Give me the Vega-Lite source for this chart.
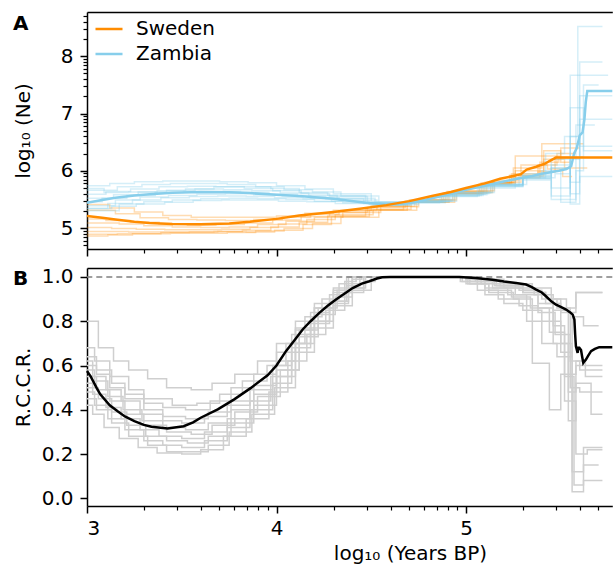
{
"$schema": "https://vega.github.io/schema/vega-lite/v6.json",
"padding": {"left": 13, "top": 12, "right": 0, "bottom": 0},
"spacing": 9,
"config": {
  "font": "DejaVu Sans",
  "view": {"stroke": null},
  "axis": {"grid": false, "domainColor": "black", "domainWidth": 1.5, "tickColor": "black", "tickWidth": 1.5, "labelColor": "black", "labelFontSize": 20, "titleFontSize": 20, "titleFontWeight": "normal", "titleColor": "black", "labelFont": "DejaVu Sans", "titleFont": "DejaVu Sans"}
},
"datasets": {
"ne": [
{"c":"Zambia","x":3.0,"y":5.44},{"c":"Zambia","x":3.08,"y":5.49},{"c":"Zambia","x":3.15,"y":5.53},{"c":"Zambia","x":3.25,"y":5.57},{"c":"Zambia","x":3.33,"y":5.59},{"c":"Zambia","x":3.45,"y":5.615},{"c":"Zambia","x":3.6,"y":5.63},{"c":"Zambia","x":3.75,"y":5.625},{"c":"Zambia","x":3.86,"y":5.61},{"c":"Zambia","x":4.0,"y":5.58},{"c":"Zambia","x":4.12,"y":5.56},{"c":"Zambia","x":4.3,"y":5.51},{"c":"Zambia","x":4.47,"y":5.44},{"c":"Zambia","x":4.58,"y":5.41},{"c":"Zambia","x":4.65,"y":5.415},{"c":"Zambia","x":4.73,"y":5.45},{"c":"Zambia","x":4.82,"y":5.52},{"c":"Zambia","x":4.9,"y":5.58},{"c":"Zambia","x":5.0,"y":5.67},{"c":"Zambia","x":5.1,"y":5.74},{"c":"Zambia","x":5.18,"y":5.8},{"c":"Zambia","x":5.27,"y":5.86},{"c":"Zambia","x":5.35,"y":5.91},{"c":"Zambia","x":5.4,"y":5.95},{"c":"Zambia","x":5.49,"y":6.0},{"c":"Zambia","x":5.53,"y":6.03},{"c":"Zambia","x":5.555,"y":6.08},{"c":"Zambia","x":5.57,"y":6.3},{"c":"Zambia","x":5.585,"y":6.4},{"c":"Zambia","x":5.6,"y":6.62},{"c":"Zambia","x":5.615,"y":6.67},{"c":"Zambia","x":5.625,"y":6.9},{"c":"Zambia","x":5.632,"y":7.2},{"c":"Zambia","x":5.64,"y":7.395},{"c":"Zambia","x":5.772,"y":7.395},
{"c":"Sweden","x":3.0,"y":5.21},{"c":"Sweden","x":3.08,"y":5.18},{"c":"Sweden","x":3.15,"y":5.15},{"c":"Sweden","x":3.25,"y":5.11},{"c":"Sweden","x":3.33,"y":5.09},{"c":"Sweden","x":3.45,"y":5.07},{"c":"Sweden","x":3.6,"y":5.065},{"c":"Sweden","x":3.75,"y":5.08},{"c":"Sweden","x":3.86,"y":5.11},{"c":"Sweden","x":4.0,"y":5.16},{"c":"Sweden","x":4.12,"y":5.22},{"c":"Sweden","x":4.3,"y":5.28},{"c":"Sweden","x":4.45,"y":5.34},{"c":"Sweden","x":4.58,"y":5.4},{"c":"Sweden","x":4.7,"y":5.47},{"c":"Sweden","x":4.82,"y":5.56},{"c":"Sweden","x":4.92,"y":5.63},{"c":"Sweden","x":5.0,"y":5.7},{"c":"Sweden","x":5.1,"y":5.78},{"c":"Sweden","x":5.18,"y":5.86},{"c":"Sweden","x":5.25,"y":5.91},{"c":"Sweden","x":5.29,"y":5.94},{"c":"Sweden","x":5.32,"y":6.02},{"c":"Sweden","x":5.37,"y":6.07},{"c":"Sweden","x":5.42,"y":6.13},{"c":"Sweden","x":5.44,"y":6.17},{"c":"Sweden","x":5.475,"y":6.23},{"c":"Sweden","x":5.772,"y":6.23}
],
"swe": [
{"r":1,"x":3.0,"y":5.41},{"r":1,"x":3.12,"y":5.35},{"r":1,"x":3.25,"y":5.28},{"r":1,"x":3.4,"y":5.22},{"r":1,"x":3.55,"y":5.19},{"r":1,"x":3.7,"y":5.19},{"r":1,"x":3.85,"y":5.19},{"r":1,"x":4.0,"y":5.21},{"r":1,"x":4.15,"y":5.26},{"r":1,"x":4.3,"y":5.31},{"r":1,"x":4.5,"y":5.39},{"r":1,"x":4.7,"y":5.49},{"r":1,"x":4.9,"y":5.64},{"r":1,"x":5.1,"y":5.8},{"r":1,"x":5.25,"y":6.05},{"r":1,"x":5.4,"y":6.47},{"r":1,"x":5.5,"y":6.47},{"r":1,"x":5.62,"y":6.47},
{"r":2,"x":3.0,"y":5.31},{"r":2,"x":3.15,"y":5.25},{"r":2,"x":3.28,"y":5.18},{"r":2,"x":3.43,"y":5.15},{"r":2,"x":3.58,"y":5.14},{"r":2,"x":3.73,"y":5.13},{"r":2,"x":3.88,"y":5.15},{"r":2,"x":4.03,"y":5.19},{"r":2,"x":4.18,"y":5.24},{"r":2,"x":4.33,"y":5.3},{"r":2,"x":4.53,"y":5.38},{"r":2,"x":4.73,"y":5.49},{"r":2,"x":4.93,"y":5.64},{"r":2,"x":5.13,"y":5.78},{"r":2,"x":5.26,"y":6.26},{"r":2,"x":5.42,"y":6.26},{"r":2,"x":5.5,"y":6.4},{"r":2,"x":5.6,"y":6.4},
{"r":3,"x":3.0,"y":5.16},{"r":3,"x":3.1,"y":5.13},{"r":3,"x":3.23,"y":5.1},{"r":3,"x":3.38,"y":5.07},{"r":3,"x":3.53,"y":5.05},{"r":3,"x":3.68,"y":5.06},{"r":3,"x":3.83,"y":5.09},{"r":3,"x":3.98,"y":5.14},{"r":3,"x":4.13,"y":5.2},{"r":3,"x":4.28,"y":5.27},{"r":3,"x":4.48,"y":5.36},{"r":3,"x":4.68,"y":5.47},{"r":3,"x":4.88,"y":5.61},{"r":3,"x":5.08,"y":5.79},{"r":3,"x":5.24,"y":5.95},{"r":3,"x":5.38,"y":6.1},{"r":3,"x":5.48,"y":6.3},{"r":3,"x":5.58,"y":6.3},
{"r":4,"x":3.0,"y":5.09},{"r":4,"x":3.17,"y":5.07},{"r":4,"x":3.3,"y":5.04},{"r":4,"x":3.45,"y":5.02},{"r":4,"x":3.6,"y":5.01},{"r":4,"x":3.75,"y":5.02},{"r":4,"x":3.9,"y":5.06},{"r":4,"x":4.05,"y":5.12},{"r":4,"x":4.2,"y":5.19},{"r":4,"x":4.35,"y":5.27},{"r":4,"x":4.55,"y":5.37},{"r":4,"x":4.75,"y":5.49},{"r":4,"x":4.95,"y":5.65},{"r":4,"x":5.15,"y":5.83},{"r":4,"x":5.28,"y":5.91},{"r":4,"x":5.41,"y":6.2},{"r":4,"x":5.52,"y":6.05},{"r":4,"x":5.64,"y":6.05},
{"r":5,"x":3.0,"y":5.01},{"r":5,"x":3.13,"y":4.99},{"r":5,"x":3.26,"y":4.98},{"r":5,"x":3.41,"y":4.97},{"r":5,"x":3.56,"y":4.97},{"r":5,"x":3.71,"y":4.98},{"r":5,"x":3.86,"y":5.01},{"r":5,"x":4.01,"y":5.07},{"r":5,"x":4.16,"y":5.15},{"r":5,"x":4.31,"y":5.23},{"r":5,"x":4.51,"y":5.33},{"r":5,"x":4.71,"y":5.45},{"r":5,"x":4.91,"y":5.61},{"r":5,"x":5.11,"y":5.79},{"r":5,"x":5.26,"y":6.0},{"r":5,"x":5.41,"y":6.35},{"r":5,"x":5.5,"y":6.15},{"r":5,"x":5.55,"y":6.15},
{"r":6,"x":3.0,"y":4.94},{"r":6,"x":3.09,"y":4.94},{"r":6,"x":3.22,"y":4.93},{"r":6,"x":3.37,"y":4.93},{"r":6,"x":3.52,"y":4.93},{"r":6,"x":3.67,"y":4.94},{"r":6,"x":3.82,"y":4.96},{"r":6,"x":3.97,"y":5.02},{"r":6,"x":4.12,"y":5.1},{"r":6,"x":4.27,"y":5.21},{"r":6,"x":4.47,"y":5.32},{"r":6,"x":4.67,"y":5.45},{"r":6,"x":4.87,"y":5.6},{"r":6,"x":5.07,"y":5.77},{"r":6,"x":5.23,"y":5.92},{"r":6,"x":5.38,"y":5.98},{"r":6,"x":5.47,"y":6.24},{"r":6,"x":5.62,"y":6.24},
{"r":7,"x":3.0,"y":4.89},{"r":7,"x":3.16,"y":4.9},{"r":7,"x":3.29,"y":4.9},{"r":7,"x":3.44,"y":4.91},{"r":7,"x":3.59,"y":4.91},{"r":7,"x":3.74,"y":4.92},{"r":7,"x":3.89,"y":4.95},{"r":7,"x":4.04,"y":4.99},{"r":7,"x":4.19,"y":5.08},{"r":7,"x":4.34,"y":5.19},{"r":7,"x":4.54,"y":5.31},{"r":7,"x":4.74,"y":5.45},{"r":7,"x":4.94,"y":5.62},{"r":7,"x":5.14,"y":5.8},{"r":7,"x":5.29,"y":6.1},{"r":7,"x":5.43,"y":6.03},{"r":7,"x":5.51,"y":5.9},{"r":7,"x":5.56,"y":5.9},
{"r":8,"x":3.0,"y":4.86},{"r":8,"x":3.11,"y":4.88},{"r":8,"x":3.24,"y":4.9},{"r":8,"x":3.39,"y":4.92},{"r":8,"x":3.54,"y":4.93},{"r":8,"x":3.69,"y":4.94},{"r":8,"x":3.84,"y":4.93},{"r":8,"x":3.99,"y":4.96},{"r":8,"x":4.14,"y":5.06},{"r":8,"x":4.29,"y":5.2},{"r":8,"x":4.49,"y":5.31},{"r":8,"x":4.69,"y":5.45},{"r":8,"x":4.89,"y":5.6},{"r":8,"x":5.09,"y":5.77},{"r":8,"x":5.24,"y":5.88},{"r":8,"x":5.39,"y":6.15},{"r":8,"x":5.49,"y":6.22},{"r":8,"x":5.6,"y":6.22}
],
"zam": [
{"r":1,"x":3.0,"y":5.74},{"r":1,"x":3.12,"y":5.78},{"r":1,"x":3.25,"y":5.81},{"r":1,"x":3.4,"y":5.82},{"r":1,"x":3.55,"y":5.82},{"r":1,"x":3.7,"y":5.81},{"r":1,"x":3.85,"y":5.79},{"r":1,"x":4.0,"y":5.74},{"r":1,"x":4.15,"y":5.68},{"r":1,"x":4.3,"y":5.6},{"r":1,"x":4.5,"y":5.46},{"r":1,"x":4.7,"y":5.47},{"r":1,"x":4.9,"y":5.59},{"r":1,"x":5.1,"y":5.76},{"r":1,"x":5.3,"y":5.95},{"r":1,"x":5.45,"y":6.05},{"r":1,"x":5.55,"y":6.6},{"r":1,"x":5.59,"y":8.52},{"r":1,"x":5.72,"y":8.52},
{"r":2,"x":3.0,"y":5.66},{"r":2,"x":3.16,"y":5.72},{"r":2,"x":3.29,"y":5.76},{"r":2,"x":3.44,"y":5.78},{"r":2,"x":3.59,"y":5.78},{"r":2,"x":3.74,"y":5.76},{"r":2,"x":3.89,"y":5.72},{"r":2,"x":4.04,"y":5.67},{"r":2,"x":4.19,"y":5.63},{"r":2,"x":4.34,"y":5.56},{"r":2,"x":4.54,"y":5.45},{"r":2,"x":4.74,"y":5.49},{"r":2,"x":4.94,"y":5.62},{"r":2,"x":5.14,"y":5.76},{"r":2,"x":5.32,"y":5.88},{"r":2,"x":5.47,"y":5.95},{"r":2,"x":5.55,"y":7.67},{"r":2,"x":5.75,"y":7.67},
{"r":3,"x":3.0,"y":5.59},{"r":3,"x":3.1,"y":5.64},{"r":3,"x":3.23,"y":5.68},{"r":3,"x":3.38,"y":5.72},{"r":3,"x":3.53,"y":5.73},{"r":3,"x":3.68,"y":5.72},{"r":3,"x":3.83,"y":5.69},{"r":3,"x":3.98,"y":5.65},{"r":3,"x":4.13,"y":5.6},{"r":3,"x":4.28,"y":5.55},{"r":3,"x":4.48,"y":5.44},{"r":3,"x":4.68,"y":5.45},{"r":3,"x":4.88,"y":5.57},{"r":3,"x":5.08,"y":5.74},{"r":3,"x":5.28,"y":5.92},{"r":3,"x":5.45,"y":5.56},{"r":3,"x":5.55,"y":6.2},{"r":3,"x":5.6,"y":7.31},{"r":3,"x":5.772,"y":7.31},
{"r":4,"x":3.0,"y":5.52},{"r":4,"x":3.14,"y":5.58},{"r":4,"x":3.27,"y":5.63},{"r":4,"x":3.42,"y":5.66},{"r":4,"x":3.57,"y":5.68},{"r":4,"x":3.72,"y":5.67},{"r":4,"x":3.87,"y":5.65},{"r":4,"x":4.02,"y":5.61},{"r":4,"x":4.17,"y":5.57},{"r":4,"x":4.32,"y":5.52},{"r":4,"x":4.52,"y":5.43},{"r":4,"x":4.72,"y":5.47},{"r":4,"x":4.92,"y":5.6},{"r":4,"x":5.12,"y":5.75},{"r":4,"x":5.3,"y":5.86},{"r":4,"x":5.45,"y":6.1},{"r":4,"x":5.55,"y":5.42},{"r":4,"x":5.6,"y":6.9},{"r":4,"x":5.772,"y":6.9},
{"r":5,"x":3.0,"y":5.46},{"r":5,"x":3.08,"y":5.52},{"r":5,"x":3.21,"y":5.57},{"r":5,"x":3.36,"y":5.62},{"r":5,"x":3.51,"y":5.64},{"r":5,"x":3.66,"y":5.64},{"r":5,"x":3.81,"y":5.62},{"r":5,"x":3.96,"y":5.59},{"r":5,"x":4.11,"y":5.55},{"r":5,"x":4.26,"y":5.51},{"r":5,"x":4.46,"y":5.43},{"r":5,"x":4.66,"y":5.44},{"r":5,"x":4.86,"y":5.55},{"r":5,"x":5.06,"y":5.7},{"r":5,"x":5.26,"y":5.88},{"r":5,"x":5.42,"y":6.3},{"r":5,"x":5.52,"y":6.6},{"r":5,"x":5.6,"y":6.43},{"r":5,"x":5.772,"y":6.43},
{"r":6,"x":3.0,"y":5.39},{"r":6,"x":3.15,"y":5.49},{"r":6,"x":3.28,"y":5.54},{"r":6,"x":3.43,"y":5.57},{"r":6,"x":3.58,"y":5.59},{"r":6,"x":3.73,"y":5.6},{"r":6,"x":3.88,"y":5.58},{"r":6,"x":4.03,"y":5.56},{"r":6,"x":4.18,"y":5.53},{"r":6,"x":4.33,"y":5.49},{"r":6,"x":4.53,"y":5.43},{"r":6,"x":4.73,"y":5.47},{"r":6,"x":4.93,"y":5.61},{"r":6,"x":5.13,"y":5.75},{"r":6,"x":5.3,"y":5.84},{"r":6,"x":5.45,"y":5.5},{"r":6,"x":5.58,"y":6.0},{"r":6,"x":5.62,"y":7.5},{"r":6,"x":5.7,"y":7.5},
{"r":7,"x":3.0,"y":5.34},{"r":7,"x":3.11,"y":5.43},{"r":7,"x":3.24,"y":5.49},{"r":7,"x":3.39,"y":5.53},{"r":7,"x":3.54,"y":5.55},{"r":7,"x":3.69,"y":5.56},{"r":7,"x":3.84,"y":5.55},{"r":7,"x":3.99,"y":5.53},{"r":7,"x":4.14,"y":5.51},{"r":7,"x":4.29,"y":5.47},{"r":7,"x":4.49,"y":5.41},{"r":7,"x":4.69,"y":5.44},{"r":7,"x":4.89,"y":5.57},{"r":7,"x":5.09,"y":5.73},{"r":7,"x":5.3,"y":5.9},{"r":7,"x":5.45,"y":6.05},{"r":7,"x":5.55,"y":5.8},{"r":7,"x":5.6,"y":5.9},{"r":7,"x":5.772,"y":5.9},
{"r":8,"x":3.0,"y":5.3},{"r":8,"x":3.17,"y":5.42},{"r":8,"x":3.3,"y":5.46},{"r":8,"x":3.45,"y":5.49},{"r":8,"x":3.6,"y":5.51},{"r":8,"x":3.75,"y":5.52},{"r":8,"x":3.9,"y":5.51},{"r":8,"x":4.05,"y":5.5},{"r":8,"x":4.2,"y":5.47},{"r":8,"x":4.35,"y":5.44},{"r":8,"x":4.55,"y":5.41},{"r":8,"x":4.75,"y":5.47},{"r":8,"x":4.95,"y":5.62},{"r":8,"x":5.15,"y":5.77},{"r":8,"x":5.3,"y":5.87},{"r":8,"x":5.45,"y":5.7},{"r":8,"x":5.55,"y":7.1},{"r":8,"x":5.62,"y":6.35},{"r":8,"x":5.772,"y":6.35},
{"r":9,"x":3.0,"y":5.34},{"r":9,"x":3.13,"y":5.38},{"r":9,"x":3.26,"y":5.42},{"r":9,"x":3.41,"y":5.45},{"r":9,"x":3.56,"y":5.48},{"r":9,"x":3.71,"y":5.49},{"r":9,"x":3.86,"y":5.49},{"r":9,"x":4.01,"y":5.47},{"r":9,"x":4.16,"y":5.46},{"r":9,"x":4.31,"y":5.43},{"r":9,"x":4.51,"y":5.4},{"r":9,"x":4.71,"y":5.45},{"r":9,"x":4.91,"y":5.58},{"r":9,"x":5.11,"y":5.74},{"r":9,"x":5.3,"y":5.91},{"r":9,"x":5.4,"y":6.0},{"r":9,"x":5.5,"y":5.45},{"r":9,"x":5.58,"y":6.8},{"r":9,"x":5.68,"y":6.8},
{"r":10,"x":3.0,"y":5.69},{"r":10,"x":3.09,"y":5.62},{"r":10,"x":3.22,"y":5.63},{"r":10,"x":3.37,"y":5.65},{"r":10,"x":3.52,"y":5.68},{"r":10,"x":3.67,"y":5.72},{"r":10,"x":3.82,"y":5.72},{"r":10,"x":3.97,"y":5.69},{"r":10,"x":4.12,"y":5.62},{"r":10,"x":4.27,"y":5.57},{"r":10,"x":4.47,"y":5.45},{"r":10,"x":4.67,"y":5.45},{"r":10,"x":4.87,"y":5.56},{"r":10,"x":5.07,"y":5.72},{"r":10,"x":5.3,"y":5.9},{"r":10,"x":5.45,"y":6.2},{"r":10,"x":5.55,"y":5.6},{"r":10,"x":5.6,"y":7.9},{"r":10,"x":5.72,"y":7.9}
],
"rccr": [
{"x":3.0,"y":0.575},{"x":3.02,"y":0.55},{"x":3.05,"y":0.5},{"x":3.07,"y":0.47},{"x":3.12,"y":0.42},{"x":3.16,"y":0.394},{"x":3.2,"y":0.37},{"x":3.25,"y":0.349},{"x":3.3,"y":0.332},{"x":3.34,"y":0.323},{"x":3.425,"y":0.316},{"x":3.51,"y":0.326},{"x":3.56,"y":0.343},{"x":3.6,"y":0.364},{"x":3.69,"y":0.402},{"x":3.777,"y":0.447},{"x":3.865,"y":0.499},{"x":3.953,"y":0.556},{"x":4.0,"y":0.6},{"x":4.05,"y":0.665},{"x":4.1,"y":0.72},{"x":4.138,"y":0.763},{"x":4.18,"y":0.8},{"x":4.226,"y":0.838},{"x":4.27,"y":0.87},{"x":4.314,"y":0.898},{"x":4.36,"y":0.925},{"x":4.402,"y":0.95},{"x":4.45,"y":0.97},{"x":4.49,"y":0.981},{"x":4.53,"y":0.993},{"x":4.558,"y":0.999},{"x":4.6,"y":1.0},{"x":4.965,"y":1.0},{"x":5.05,"y":0.995},{"x":5.139,"y":0.988},{"x":5.2,"y":0.98},{"x":5.264,"y":0.973},{"x":5.317,"y":0.966},{"x":5.345,"y":0.955},{"x":5.37,"y":0.943},{"x":5.4,"y":0.93},{"x":5.422,"y":0.913},{"x":5.45,"y":0.89},{"x":5.475,"y":0.875},{"x":5.5,"y":0.865},{"x":5.528,"y":0.853},{"x":5.55,"y":0.84},{"x":5.563,"y":0.83},{"x":5.572,"y":0.808},{"x":5.576,"y":0.74},{"x":5.58,"y":0.687},{"x":5.589,"y":0.657},{"x":5.593,"y":0.68},{"x":5.598,"y":0.68},{"x":5.607,"y":0.67},{"x":5.613,"y":0.64},{"x":5.619,"y":0.612},{"x":5.626,"y":0.62},{"x":5.633,"y":0.627},{"x":5.645,"y":0.645},{"x":5.66,"y":0.665},{"x":5.68,"y":0.675},{"x":5.703,"y":0.683},{"x":5.772,"y":0.683}
],
"rep": [
{"r":1,"x":3.0,"y":0.8},{"r":1,"x":3.06,"y":0.68},{"r":1,"x":3.14,"y":0.62},{"r":1,"x":3.22,"y":0.58},{"r":1,"x":3.32,"y":0.54},{"r":1,"x":3.42,"y":0.5},{"r":1,"x":3.55,"y":0.49},{"r":1,"x":3.66,"y":0.52},{"r":1,"x":3.78,"y":0.56},{"r":1,"x":3.9,"y":0.62},{"r":1,"x":4.0,"y":0.7},{"r":1,"x":4.1,"y":0.8},{"r":1,"x":4.2,"y":0.88},{"r":1,"x":4.3,"y":0.95},{"r":1,"x":4.38,"y":1.0},{"r":1,"x":5.0,"y":0.99},{"r":1,"x":5.08,"y":0.97},{"r":1,"x":5.2,"y":0.95},{"r":1,"x":5.3,"y":0.93},{"r":1,"x":5.42,"y":0.9},{"r":1,"x":5.5,"y":0.84},{"r":1,"x":5.58,"y":0.93},{"r":1,"x":5.72,"y":0.93},
{"r":2,"x":3.0,"y":0.68},{"r":2,"x":3.04,"y":0.62},{"r":2,"x":3.12,"y":0.55},{"r":2,"x":3.22,"y":0.49},{"r":2,"x":3.3,"y":0.45},{"r":2,"x":3.45,"y":0.42},{"r":2,"x":3.58,"y":0.43},{"r":2,"x":3.7,"y":0.47},{"r":2,"x":3.82,"y":0.53},{"r":2,"x":3.95,"y":0.6},{"r":2,"x":4.05,"y":0.7},{"r":2,"x":4.15,"y":0.82},{"r":2,"x":4.24,"y":0.9},{"r":2,"x":4.33,"y":0.97},{"r":2,"x":4.4,"y":1.0},{"r":2,"x":4.98,"y":0.98},{"r":2,"x":5.1,"y":0.95},{"r":2,"x":5.22,"y":0.92},{"r":2,"x":5.32,"y":0.8},{"r":2,"x":5.4,"y":0.7},{"r":2,"x":5.48,"y":0.64},{"r":2,"x":5.56,"y":0.82},{"r":2,"x":5.62,"y":0.78},{"r":2,"x":5.7,"y":0.78},
{"r":3,"x":3.0,"y":0.64},{"r":3,"x":3.05,"y":0.58},{"r":3,"x":3.13,"y":0.52},{"r":3,"x":3.2,"y":0.47},{"r":3,"x":3.3,"y":0.43},{"r":3,"x":3.4,"y":0.41},{"r":3,"x":3.52,"y":0.4},{"r":3,"x":3.65,"y":0.44},{"r":3,"x":3.76,"y":0.5},{"r":3,"x":3.88,"y":0.56},{"r":3,"x":4.0,"y":0.66},{"r":3,"x":4.1,"y":0.77},{"r":3,"x":4.2,"y":0.86},{"r":3,"x":4.3,"y":0.94},{"r":3,"x":4.37,"y":1.0},{"r":3,"x":5.02,"y":0.97},{"r":3,"x":5.12,"y":0.93},{"r":3,"x":5.25,"y":0.9},{"r":3,"x":5.35,"y":0.61},{"r":3,"x":5.44,"y":0.4},{"r":3,"x":5.5,"y":0.56},{"r":3,"x":5.58,"y":0.6},{"r":3,"x":5.72,"y":0.6},
{"r":4,"x":3.0,"y":0.62},{"r":4,"x":3.03,"y":0.55},{"r":4,"x":3.1,"y":0.49},{"r":4,"x":3.18,"y":0.44},{"r":4,"x":3.28,"y":0.38},{"r":4,"x":3.4,"y":0.35},{"r":4,"x":3.5,"y":0.34},{"r":4,"x":3.62,"y":0.37},{"r":4,"x":3.74,"y":0.42},{"r":4,"x":3.86,"y":0.49},{"r":4,"x":3.98,"y":0.6},{"r":4,"x":4.08,"y":0.74},{"r":4,"x":4.18,"y":0.84},{"r":4,"x":4.28,"y":0.92},{"r":4,"x":4.36,"y":0.98},{"r":4,"x":4.42,"y":1.0},{"r":4,"x":5.05,"y":0.98},{"r":4,"x":5.15,"y":0.96},{"r":4,"x":5.28,"y":0.94},{"r":4,"x":5.38,"y":0.88},{"r":4,"x":5.46,"y":0.78},{"r":4,"x":5.52,"y":0.55},{"r":4,"x":5.57,"y":0.06},{"r":4,"x":5.62,"y":0.15},{"r":4,"x":5.7,"y":0.15},
{"r":5,"x":3.0,"y":0.58},{"r":5,"x":3.04,"y":0.53},{"r":5,"x":3.11,"y":0.46},{"r":5,"x":3.19,"y":0.4},{"r":5,"x":3.29,"y":0.35},{"r":5,"x":3.4,"y":0.32},{"r":5,"x":3.52,"y":0.31},{"r":5,"x":3.64,"y":0.34},{"r":5,"x":3.76,"y":0.4},{"r":5,"x":3.88,"y":0.47},{"r":5,"x":4.0,"y":0.58},{"r":5,"x":4.12,"y":0.76},{"r":5,"x":4.22,"y":0.86},{"r":5,"x":4.32,"y":0.94},{"r":5,"x":4.4,"y":1.0},{"r":5,"x":5.0,"y":0.97},{"r":5,"x":5.1,"y":0.92},{"r":5,"x":5.2,"y":0.88},{"r":5,"x":5.3,"y":0.85},{"r":5,"x":5.4,"y":0.8},{"r":5,"x":5.5,"y":0.66},{"r":5,"x":5.56,"y":0.03},{"r":5,"x":5.62,"y":0.08},{"r":5,"x":5.72,"y":0.08},
{"r":6,"x":3.0,"y":0.55},{"r":6,"x":3.05,"y":0.49},{"r":6,"x":3.12,"y":0.44},{"r":6,"x":3.2,"y":0.38},{"r":6,"x":3.3,"y":0.33},{"r":6,"x":3.42,"y":0.3},{"r":6,"x":3.55,"y":0.29},{"r":6,"x":3.66,"y":0.33},{"r":6,"x":3.78,"y":0.39},{"r":6,"x":3.9,"y":0.46},{"r":6,"x":4.02,"y":0.58},{"r":6,"x":4.12,"y":0.73},{"r":6,"x":4.22,"y":0.83},{"r":6,"x":4.31,"y":0.91},{"r":6,"x":4.4,"y":0.97},{"r":6,"x":4.46,"y":1.0},{"r":6,"x":5.03,"y":0.99},{"r":6,"x":5.14,"y":0.97},{"r":6,"x":5.26,"y":0.95},{"r":6,"x":5.36,"y":0.92},{"r":6,"x":5.46,"y":0.85},{"r":6,"x":5.54,"y":0.35},{"r":6,"x":5.58,"y":0.52},{"r":6,"x":5.66,"y":0.38},{"r":6,"x":5.72,"y":0.38},
{"r":7,"x":3.0,"y":0.52},{"r":7,"x":3.03,"y":0.47},{"r":7,"x":3.1,"y":0.41},{"r":7,"x":3.18,"y":0.36},{"r":7,"x":3.28,"y":0.31},{"r":7,"x":3.38,"y":0.28},{"r":7,"x":3.5,"y":0.27},{"r":7,"x":3.62,"y":0.3},{"r":7,"x":3.74,"y":0.36},{"r":7,"x":3.86,"y":0.44},{"r":7,"x":3.97,"y":0.55},{"r":7,"x":4.08,"y":0.7},{"r":7,"x":4.18,"y":0.8},{"r":7,"x":4.28,"y":0.89},{"r":7,"x":4.37,"y":0.96},{"r":7,"x":4.44,"y":1.0},{"r":7,"x":4.97,"y":0.98},{"r":7,"x":5.06,"y":0.94},{"r":7,"x":5.17,"y":0.9},{"r":7,"x":5.28,"y":0.87},{"r":7,"x":5.38,"y":0.84},{"r":7,"x":5.47,"y":0.74},{"r":7,"x":5.55,"y":0.5},{"r":7,"x":5.6,"y":0.48},{"r":7,"x":5.72,"y":0.48},
{"r":8,"x":3.0,"y":0.5},{"r":8,"x":3.06,"y":0.45},{"r":8,"x":3.13,"y":0.39},{"r":8,"x":3.21,"y":0.33},{"r":8,"x":3.31,"y":0.28},{"r":8,"x":3.42,"y":0.26},{"r":8,"x":3.53,"y":0.25},{"r":8,"x":3.64,"y":0.28},{"r":8,"x":3.76,"y":0.34},{"r":8,"x":3.88,"y":0.42},{"r":8,"x":4.0,"y":0.55},{"r":8,"x":4.1,"y":0.7},{"r":8,"x":4.2,"y":0.8},{"r":8,"x":4.3,"y":0.89},{"r":8,"x":4.38,"y":0.95},{"r":8,"x":4.46,"y":1.0},{"r":8,"x":5.04,"y":0.99},{"r":8,"x":5.16,"y":0.96},{"r":8,"x":5.3,"y":0.94},{"r":8,"x":5.4,"y":0.9},{"r":8,"x":5.48,"y":0.86},{"r":8,"x":5.55,"y":0.62},{"r":8,"x":5.6,"y":0.58},{"r":8,"x":5.72,"y":0.58},
{"r":9,"x":3.0,"y":0.48},{"r":9,"x":3.04,"y":0.42},{"r":9,"x":3.11,"y":0.36},{"r":9,"x":3.2,"y":0.31},{"r":9,"x":3.3,"y":0.26},{"r":9,"x":3.4,"y":0.24},{"r":9,"x":3.5,"y":0.23},{"r":9,"x":3.62,"y":0.26},{"r":9,"x":3.74,"y":0.32},{"r":9,"x":3.86,"y":0.4},{"r":9,"x":3.98,"y":0.52},{"r":9,"x":4.08,"y":0.68},{"r":9,"x":4.18,"y":0.79},{"r":9,"x":4.28,"y":0.88},{"r":9,"x":4.38,"y":0.95},{"r":9,"x":4.47,"y":1.0},{"r":9,"x":5.06,"y":0.98},{"r":9,"x":5.18,"y":0.96},{"r":9,"x":5.3,"y":0.93},{"r":9,"x":5.42,"y":0.88},{"r":9,"x":5.5,"y":0.7},{"r":9,"x":5.56,"y":0.12},{"r":9,"x":5.62,"y":0.23},{"r":9,"x":5.72,"y":0.23},
{"r":10,"x":3.0,"y":0.45},{"r":10,"x":3.05,"y":0.4},{"r":10,"x":3.13,"y":0.34},{"r":10,"x":3.22,"y":0.28},{"r":10,"x":3.32,"y":0.24},{"r":10,"x":3.42,"y":0.21},{"r":10,"x":3.54,"y":0.21},{"r":10,"x":3.64,"y":0.24},{"r":10,"x":3.75,"y":0.3},{"r":10,"x":3.87,"y":0.38},{"r":10,"x":3.99,"y":0.5},{"r":10,"x":4.1,"y":0.66},{"r":10,"x":4.2,"y":0.77},{"r":10,"x":4.3,"y":0.87},{"r":10,"x":4.4,"y":0.94},{"r":10,"x":4.5,"y":1.0},{"r":10,"x":5.01,"y":0.97},{"r":10,"x":5.12,"y":0.94},{"r":10,"x":5.24,"y":0.91},{"r":10,"x":5.34,"y":0.86},{"r":10,"x":5.44,"y":0.75},{"r":10,"x":5.52,"y":0.44},{"r":10,"x":5.58,"y":0.2},{"r":10,"x":5.64,"y":0.22},{"r":10,"x":5.72,"y":0.22},
{"r":11,"x":3.0,"y":0.42},{"r":11,"x":3.03,"y":0.38},{"r":11,"x":3.09,"y":0.32},{"r":11,"x":3.17,"y":0.27},{"r":11,"x":3.27,"y":0.23},{"r":11,"x":3.37,"y":0.205},{"r":11,"x":3.5,"y":0.2},{"r":11,"x":3.6,"y":0.22},{"r":11,"x":3.72,"y":0.28},{"r":11,"x":3.84,"y":0.36},{"r":11,"x":3.96,"y":0.48},{"r":11,"x":4.06,"y":0.62},{"r":11,"x":4.16,"y":0.74},{"r":11,"x":4.26,"y":0.85},{"r":11,"x":4.36,"y":0.93},{"r":11,"x":4.46,"y":0.98},{"r":11,"x":4.52,"y":1.0},{"r":11,"x":5.05,"y":0.99},{"r":11,"x":5.2,"y":0.97},{"r":11,"x":5.35,"y":0.95},{"r":11,"x":5.45,"y":0.9},{"r":11,"x":5.53,"y":0.86},{"r":11,"x":5.58,"y":0.93},{"r":11,"x":5.72,"y":0.93},
{"r":12,"x":3.0,"y":0.6},{"r":12,"x":3.05,"y":0.56},{"r":12,"x":3.12,"y":0.5},{"r":12,"x":3.2,"y":0.45},{"r":12,"x":3.3,"y":0.4},{"r":12,"x":3.4,"y":0.37},{"r":12,"x":3.52,"y":0.36},{"r":12,"x":3.64,"y":0.39},{"r":12,"x":3.76,"y":0.44},{"r":12,"x":3.88,"y":0.51},{"r":12,"x":4.0,"y":0.62},{"r":12,"x":4.1,"y":0.76},{"r":12,"x":4.2,"y":0.86},{"r":12,"x":4.3,"y":0.93},{"r":12,"x":4.4,"y":0.99},{"r":12,"x":4.45,"y":1.0},{"r":12,"x":5.02,"y":0.98},{"r":12,"x":5.14,"y":0.95},{"r":12,"x":5.26,"y":0.92},{"r":12,"x":5.38,"y":0.86},{"r":12,"x":5.46,"y":0.7},{"r":12,"x":5.54,"y":0.48},{"r":12,"x":5.58,"y":0.62},{"r":12,"x":5.63,"y":0.55},{"r":12,"x":5.72,"y":0.55}
]
},
"vconcat": [
{
  "width": 525.3, "height": 237,
  "layer": [
    {"data": {"name": "swe"},
     "mark": {"type": "line", "interpolate": "step-after", "color": "darkorange", "opacity": 0.3, "strokeWidth": 1.5},
     "encoding": {
       "x": {"field": "x", "type": "quantitative", "scale": {"domain": [3, 5.772], "nice": false, "zero": false},
             "axis": {"orient": "bottom", "values": [3, 4, 5], "labels": false, "tickSize": 7, "title": null}},
       "y": {"field": "y", "type": "quantitative", "scale": {"domain": [4.634, 8.773], "nice": false, "zero": false},
             "axis": {"orient": "left", "values": [5, 6, 7, 8], "tickSize": 7, "labelPadding": 7, "title": "log₁₀ (Ne)", "titleBaseline": "alphabetic", "titleX": -57}},
       "detail": {"field": "r", "type": "nominal"}
     }},
    {"data": {"name": "zam"},
     "mark": {"type": "line", "interpolate": "step-after", "color": "skyblue", "opacity": 0.35, "strokeWidth": 1.5},
     "encoding": {
       "x": {"field": "x", "type": "quantitative", "axis": {"orient": "top", "ticks": false, "labels": false, "title": null}},
       "y": {"field": "y", "type": "quantitative", "axis": null},
       "detail": {"field": "r", "type": "nominal"}
     }},
    {"data": {"name": "ne"},
     "mark": {"type": "line", "strokeWidth": 2.5},
     "encoding": {
       "x": {"field": "x", "type": "quantitative",
             "axis": {"orient": "bottom", "values": [3.301,3.477,3.602,3.699,3.778,3.845,3.903,3.954,4.301,4.477,4.602,4.699,4.778,4.845,4.903,4.954,5.301,5.477,5.602,5.699], "labels": false, "domain": false, "tickSize": 4, "tickWidth": 1.2, "title": null}},
       "y": {"field": "y", "type": "quantitative",
             "axis": {"orient": "left", "values": [4.699,4.778,4.845,4.903,4.954,5.301,5.477,5.602,5.699,5.778,5.845,5.903,5.954,6.301,6.477,6.602,6.699,6.778,6.845,6.903,6.954,7.301,7.477,7.602,7.699,7.778,7.845,7.903,7.954,8.301,8.477,8.602,8.699], "labels": false, "domain": false, "tickSize": 4, "tickWidth": 1.2, "title": null}},
       "color": {"field": "c", "type": "nominal", "scale": {"domain": ["Sweden", "Zambia"], "range": ["darkorange", "skyblue"]},
                 "legend": {"title": null, "orient": "none", "legendX": 7, "legendY": 2, "padding": 0, "symbolType": "stroke", "symbolStrokeWidth": 2.5, "symbolSize": 730, "labelFontSize": 20, "labelOffset": 12, "rowPadding": 0, "labelColor": "black"}}
     }},
    {"data": {"values": [{"panel": "A"}]},
     "mark": {"type": "text", "fontSize": 20, "fontWeight": "bold", "align": "left", "baseline": "top", "dx": -74, "dy": 2, "color": "black"},
     "encoding": {
       "x": {"datum": 3, "axis": null},
       "y": {"datum": 8.773, "axis": null},
       "text": {"field": "panel"}
     }}
  ],
  "resolve": {"axis": {"x": "independent", "y": "independent"}}
},
{
  "width": 525.3, "height": 238,
  "layer": [
    {"data": {"name": "rep"},
     "transform": [{"filter": "datum.r <= 6"}],
     "mark": {"type": "line", "interpolate": "step-after", "color": "#cfcfcf", "strokeWidth": 1.5},
     "encoding": {
       "x": {"field": "x", "type": "quantitative", "scale": {"domain": [3, 5.772], "nice": false, "zero": false},
             "axis": {"orient": "bottom", "values": [3, 4, 5], "tickSize": 7, "labelPadding": 6, "title": "log₁₀ (Years BP)", "titlePadding": 5, "titleX": 323}},
       "y": {"field": "y", "type": "quantitative", "scale": {"domain": [-0.0347, 1.0406], "nice": false, "zero": false},
             "axis": {"orient": "left", "values": [0, 0.2, 0.4, 0.6, 0.8, 1.0], "format": ".1f", "tickSize": 7, "labelPadding": 7, "title": "R.C.C.R.", "titleBaseline": "alphabetic", "titleX": -57}},
       "detail": {"field": "r", "type": "nominal"}
     }},
    {"data": {"name": "rep"},
     "transform": [{"filter": "datum.r > 6"}],
     "mark": {"type": "line", "interpolate": "step-after", "color": "#cfcfcf", "strokeWidth": 1.5},
     "encoding": {
       "x": {"field": "x", "type": "quantitative",
             "axis": {"orient": "bottom", "values": [3.301,3.477,3.602,3.699,3.778,3.845,3.903,3.954,4.301,4.477,4.602,4.699,4.778,4.845,4.903,4.954,5.301,5.477,5.602,5.699], "labels": false, "domain": false, "tickSize": 4, "tickWidth": 1.2, "title": null}},
       "y": {"field": "y", "type": "quantitative", "axis": null},
       "detail": {"field": "r", "type": "nominal"}
     }},
    {"data": {"values": [{}]},
     "mark": {"type": "rule", "color": "#808080", "strokeDash": [6, 4], "strokeWidth": 1.5},
     "encoding": {"y": {"datum": 1, "axis": null}}},
    {"data": {"name": "rccr"},
     "mark": {"type": "line", "color": "black", "strokeWidth": 2.5},
     "encoding": {
       "x": {"field": "x", "type": "quantitative", "axis": {"orient": "top", "ticks": false, "labels": false, "title": null}},
       "y": {"field": "y", "type": "quantitative", "axis": null}
     }},
    {"data": {"values": [{"panel": "B"}]},
     "mark": {"type": "text", "fontSize": 20, "fontWeight": "bold", "align": "left", "baseline": "top", "dx": -74, "dy": 1, "color": "black"},
     "encoding": {
       "x": {"datum": 3, "axis": null},
       "y": {"datum": 1.0406, "axis": null},
       "text": {"field": "panel"}
     }}
  ],
  "resolve": {"axis": {"x": "independent", "y": "independent"}}
}
]
}
